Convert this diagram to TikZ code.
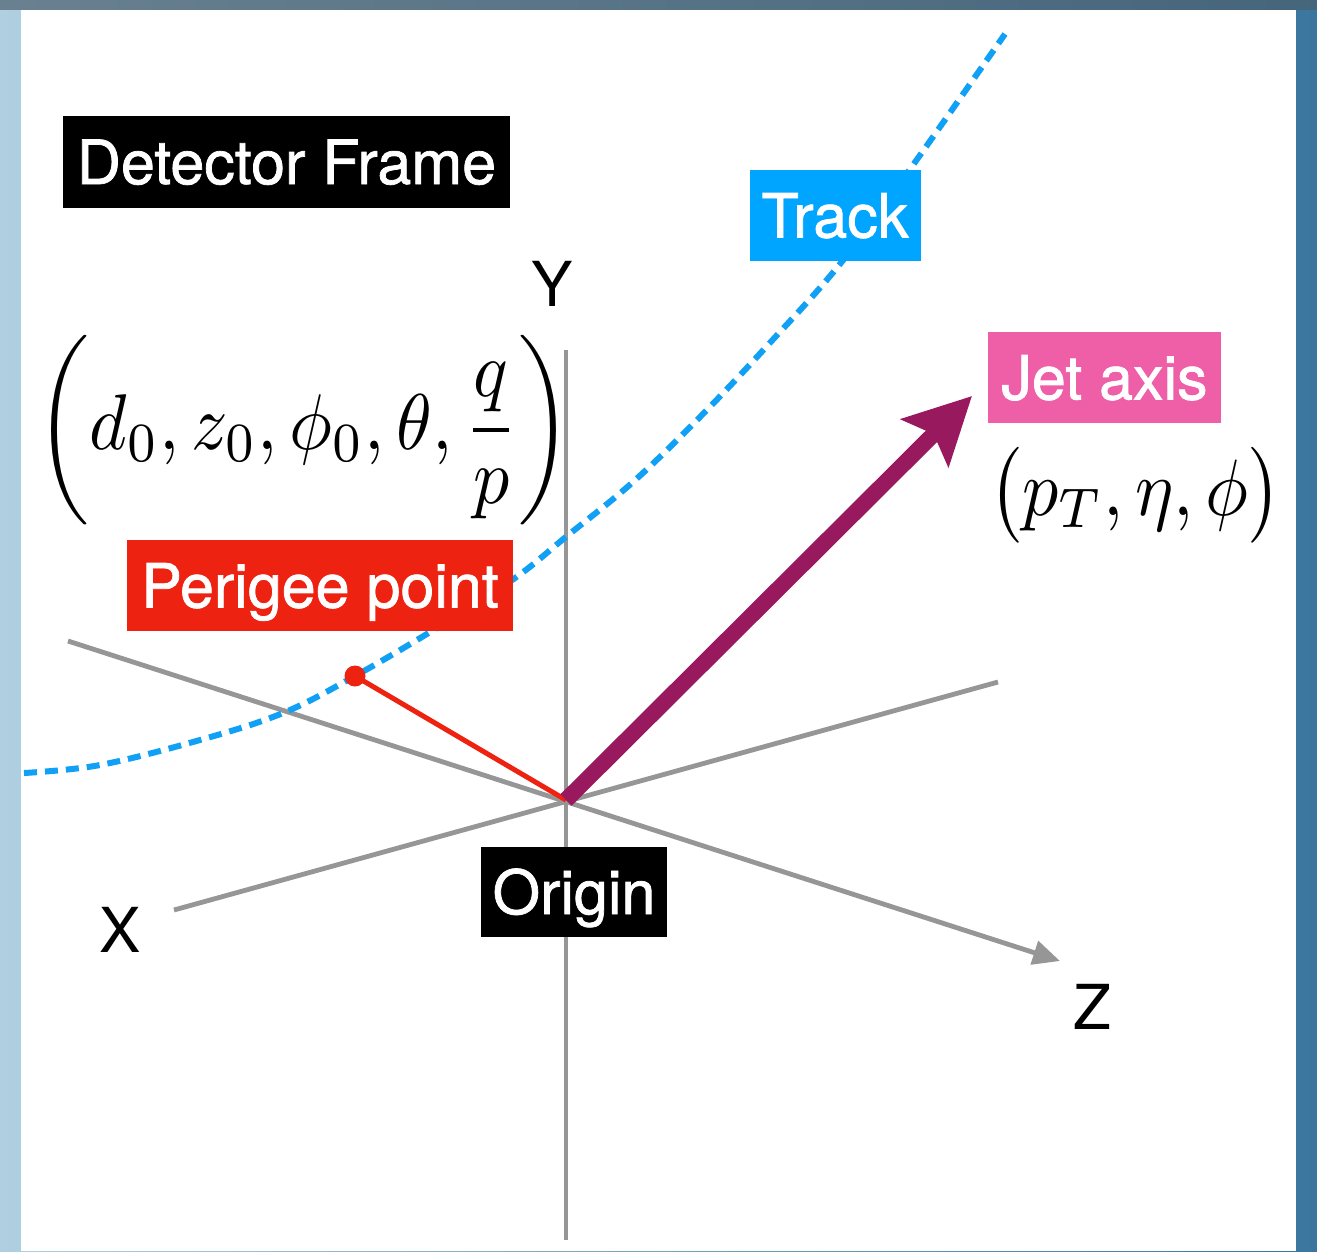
\documentclass[tikz,border=0pt]{standalone}
\usepackage{graphicx}
\usepackage{fontspec}
\setsansfont{TeX Gyre Heros}
\newfontfamily\lblfont{TeX Gyre Heros}[FakeBold=1.2]
\usetikzlibrary{arrows.meta}
\definecolor{axgray}{RGB}{150,150,150}
\definecolor{trackblue}{RGB}{16,160,245}
\definecolor{trackbox}{RGB}{0,165,255}
\definecolor{perired}{RGB}{238,34,17}
\definecolor{jetpink}{RGB}{238,95,167}
\definecolor{jetpurple}{RGB}{153,25,94}
\definecolor{bgleft}{RGB}{176,208,225}
\definecolor{bgright}{RGB}{58,118,158}
\definecolor{bgtop}{RGB}{75,95,110}
\begin{document}
\begin{tikzpicture}[x=1pt,y=-1pt,
  lbl/.style={fill=#1,text=white,inner sep=0pt,text height=44pt,text depth=0pt,font=\lblfont\fontsize{61}{63}\selectfont},
  ax/.style={draw=axgray,line width=4.8pt},
  axlab/.style={font=\sffamily\fontsize{62}{64}\selectfont,inner sep=0pt},
  mathlab/.style={inner sep=0pt},
  track/.style={draw=trackblue,line width=6pt,dash pattern=on 13pt off 8pt}]
\useasboundingbox (0,0) rectangle (1317,1251);
% window border
\shade[left color=bgleft,right color=bgright] (0,0) rectangle (1317,1251);
\fill[bgtop,opacity=0.7] (0,0) rectangle (1317,10);
\fill[white] (21,10) rectangle (1296,1251);

% coordinates
\coordinate (O) at (566,800);
\coordinate (Ytop) at (566,350);
\coordinate (Ybot) at (566,1240);
\coordinate (Zstart) at (68,641);
\coordinate (Zend) at (1060,961);
\coordinate (Xend) at (174,910);
\coordinate (Xfar) at (998,682);
\coordinate (P) at (355,676);
\coordinate (J) at (972,396);

% axes
\draw[ax] (Ytop) -- (Ybot);
\draw[ax] (Xend) -- (Xfar);
\draw[ax,-{Triangle[length=27pt,width=24pt]}] (Zstart) -- (Zend);

% track
\draw[track] plot[smooth,tension=0.6] coordinates {(24,773) (100,765) (200,740) (283,713) (355,676) (440,626) (515,578) (567,536) (633,482) (700,417) (767,346) (840,264) (913,165) (1005,34)};

% perigee
\draw[perired,line width=5pt] (P) -- (O);
\fill[perired] (P) circle (10.5pt);

% jet axis
\draw[jetpurple,line width=16pt,-{Stealth[length=66pt,width=66pt,inset=12pt]}] (O) -- (J);

% labels
\node[lbl=black,minimum width=447pt,minimum height=92pt] (det) at (286.5,162) {Detector Frame};
\node[lbl=trackbox,minimum width=171pt,minimum height=91pt] (trk) at (835,215.5) {Track};
\node[lbl=jetpink,minimum width=233pt,minimum height=91pt] (jet) at (1104.5,377.5) {Jet axis};
\node[lbl=perired,minimum width=386pt,minimum height=91pt] (per) at (320,585.5) {Perigee point};
\node[lbl=black,minimum width=186pt,minimum height=90pt] (ori) at (574,892) {Origin};

\node[axlab] (ylab) at (552,284) {Y};
\node[axlab] (xlab) at (120,930) {X};
\node[axlab] (zlab) at (1092,1007) {Z};

\node[mathlab] (params) at (304,430) {\scalebox{7.2}[7.9]{$\displaystyle\biggl(d_0, z_0, \phi_0, \theta, \frac{q}{p}\biggr)$}};
\node[mathlab] (jetvars) at (1135.5,495) {\scalebox{7.2}[8.0]{$\bigl(p_T, \eta, \phi\bigr)$}};
\end{tikzpicture}
\end{document}
